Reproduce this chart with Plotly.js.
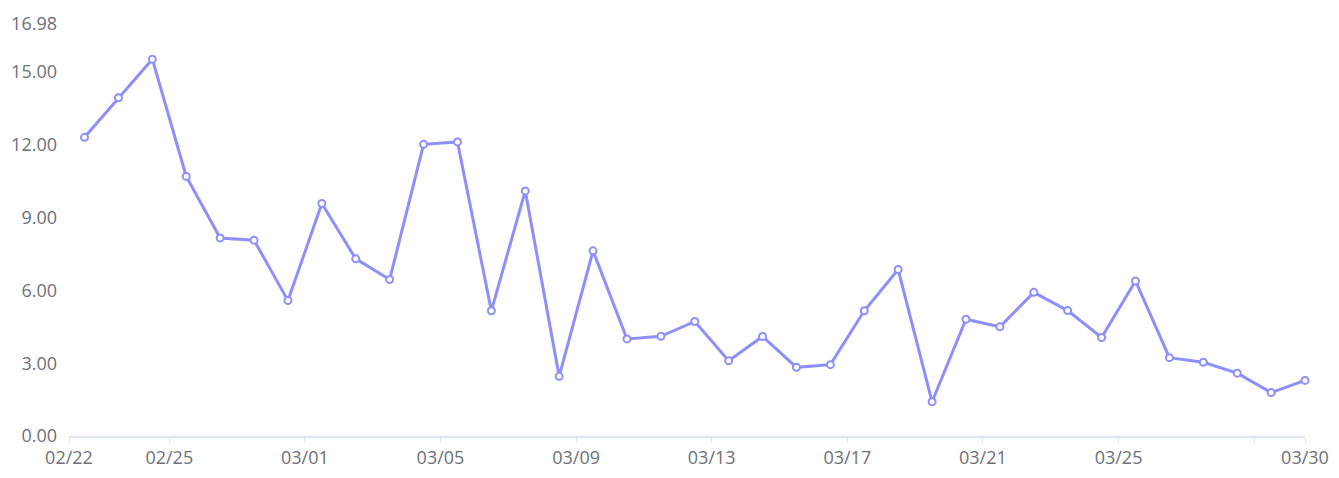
<!DOCTYPE html>
<html>
<head>
<meta charset="utf-8">
<script src="https://cdn.plot.ly/plotly-3.0.1.min.js"></script>
<style>html,body{margin:0;padding:0;background:#fff;}#chart{width:1339px;height:478px;}</style>
</head>
<body>
<div id="chart"></div>
<script>
const dates = ['2023-02-22','2023-02-23','2023-02-24','2023-02-25','2023-02-26','2023-02-27','2023-02-28',
  '2023-03-01','2023-03-02','2023-03-03','2023-03-04','2023-03-05','2023-03-06','2023-03-07','2023-03-08',
  '2023-03-09','2023-03-10','2023-03-11','2023-03-12','2023-03-13','2023-03-14','2023-03-15','2023-03-16',
  '2023-03-17','2023-03-18','2023-03-19','2023-03-20','2023-03-21','2023-03-22','2023-03-23','2023-03-24',
  '2023-03-25','2023-03-26','2023-03-27','2023-03-28','2023-03-29','2023-03-30'];
const values = [12.31,13.94,15.53,10.70,8.16,8.07,5.58,9.58,7.30,6.45,12.02,12.12,5.16,10.10,2.46,7.63,
  4.00,4.11,4.72,3.10,4.10,2.83,2.94,5.16,6.86,1.41,4.81,4.50,5.92,5.17,4.06,6.39,3.23,3.04,2.59,1.79,2.29];
const xTickVals = ['2023-02-22 01:00','2023-02-25','2023-03-01','2023-03-05','2023-03-09','2023-03-13',
  '2023-03-17','2023-03-21','2023-03-25','2023-03-29','2023-03-30 12:00'];
const xTickText = ['02/22','02/25','03/01','03/05','03/09','03/13','03/17','03/21','03/25','','03/30'];
const yTickVals = [0,3,6,9,12,15,16.98];
const yMax = 16.98;

const xs = dates.map(d => d + ' 12:00');
const lineColor = '#8d90fb';
const textColor = '#6e7079';
const axisColor = '#e0e6f1';

Plotly.newPlot('chart', [{
  type: 'scatter',
  mode: 'lines+markers',
  x: xs,
  y: values,
  line: {color: lineColor, width: 3},
  marker: {symbol: 'circle', size: 7, color: '#ffffff', line: {color: lineColor, width: 2}},
  cliponaxis: false,
  hoverinfo: 'x+y'
}], {
  width: 1339, height: 478,
  margin: {l: 69, r: 34, t: 24, b: 42, pad: 0},
  paper_bgcolor: '#ffffff', plot_bgcolor: '#ffffff',
  showlegend: false,
  font: {family: '"Open Sans", "Noto Sans", sans-serif', size: 18, color: textColor},
  xaxis: {
    type: 'date',
    range: ['2023-02-22 01:00', '2023-03-30 12:00'],
    tickmode: 'array', tickvals: xTickVals, ticktext: xTickText,
    ticks: 'outside', ticklen: 5, tickwidth: 1, tickcolor: axisColor,
    showline: true, linecolor: axisColor, linewidth: 1.5,
    showgrid: false, zeroline: false,
    tickfont: {size: 18, color: textColor}
  },
  yaxis: {
    range: [0, yMax],
    tickmode: 'array', tickvals: yTickVals,
    tickformat: '.2f',
    ticks: '', showline: false, showgrid: false, zeroline: false,
    ticklabelstandoff: 11,
    tickfont: {size: 18, color: textColor}
  }
}, {displayModeBar: false, staticPlot: true});
</script>
</body>
</html>
